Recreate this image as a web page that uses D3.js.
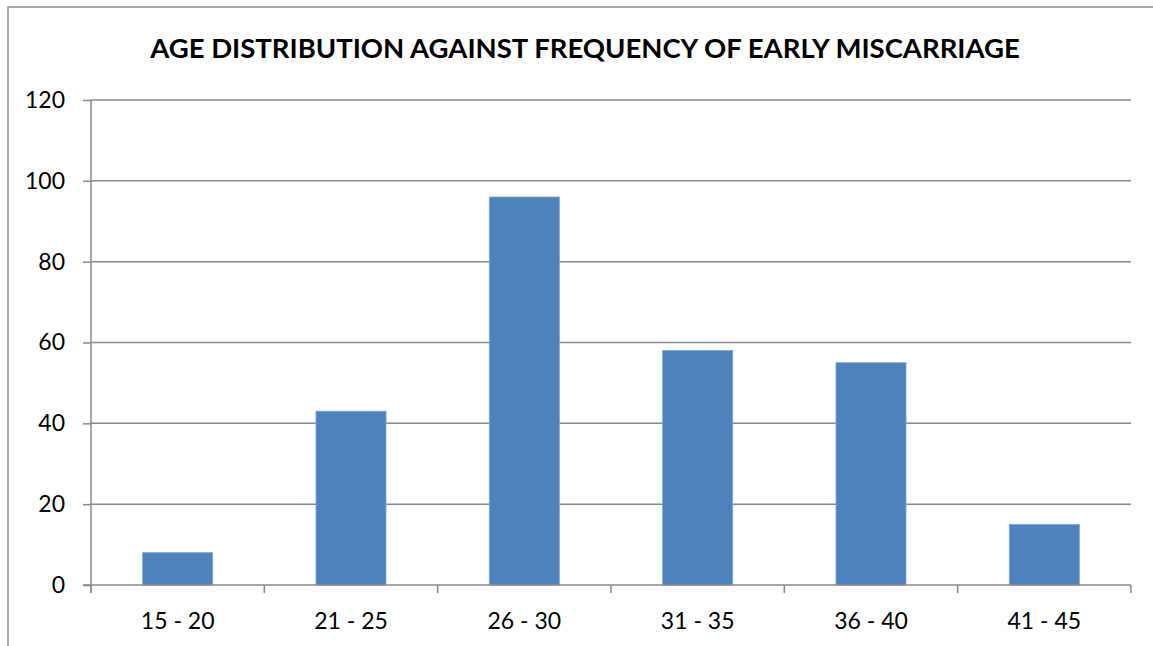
<!DOCTYPE html>
<html><head><meta charset="utf-8">
<script src="https://cdn.jsdelivr.net/npm/d3@7"></script>
<style>body{margin:0;background:#fff;} text{font-family:Lato, "Open Sans", sans-serif;}</style>
</head><body>
<svg id="c" width="1153" height="646"></svg>
<script>
const categories = ["15 - 20","21 - 25","26 - 30","31 - 35","36 - 40","41 - 45"];
const values = [8, 43, 96, 58, 55, 15];
const yTicks = [0,20,40,60,80,100,120];
const title = "AGE DISTRIBUTION AGAINST FREQUENCY OF EARLY MISCARRIAGE";

const svg = d3.select("#c");
const L = 91, R = 1131, T = 100, B = 585;
svg.append("rect").attr("x",8).attr("y",7).attr("width",1160).attr("height",660)
  .attr("fill","#fff").attr("stroke","#8c8c8c").attr("stroke-width",1.5);

const x = d3.scaleBand().domain(categories).range([L,R]).paddingInner(0.596).paddingOuter(0.298);
const y = d3.scaleLinear().domain([0,120]).range([B,T]);

// gridlines
svg.append("g").selectAll("line").data(yTicks.filter(d=>d>0)).join("line")
  .attr("x1",L).attr("x2",R).attr("y1",d=>y(d)).attr("y2",d=>y(d))
  .attr("stroke","#888").attr("stroke-width",1.5);

// bars
svg.append("g").selectAll("rect").data(values).join("rect")
  .attr("x",(d,i)=>x(categories[i])).attr("width",x.bandwidth())
  .attr("y",d=>y(d)).attr("height",d=>B-y(d))
  .attr("fill","#4F81BD").attr("stroke","#7ea3d3").attr("stroke-width",0.8);

// y axis
const ya = svg.append("g").attr("transform",`translate(${L},0)`)
  .call(d3.axisLeft(y).tickValues(yTicks).tickSize(8).tickPadding(18));
ya.select(".domain").attr("stroke","#888").attr("stroke-width",1.5).attr("d",`M-0,${T}V${B+8}`);
ya.selectAll(".tick line").attr("stroke","#888").attr("stroke-width",1.5);
ya.selectAll("text").attr("font-size",23).attr("fill","#000");

// x axis
const xb = d3.scaleLinear().domain([0,6]).range([L,R]);
const xa = svg.append("g").attr("transform",`translate(0,${B})`);
xa.append("line").attr("x1",L-8).attr("x2",R).attr("stroke","#888").attr("stroke-width",1.5);
xa.selectAll(".tk").data(d3.range(7)).join("line").attr("class","tk")
  .attr("x1",d=>xb(d)).attr("x2",d=>xb(d)).attr("y1",0).attr("y2",8)
  .attr("stroke","#888").attr("stroke-width",1.5);
xa.selectAll("text").data(categories).join("text")
  .attr("x",d=>x(d)+x.bandwidth()/2).attr("y",44).attr("text-anchor","middle")
  .attr("font-size",23).attr("fill","#000").text(d=>d);

svg.append("text").attr("x",585).attr("y",58).attr("text-anchor","middle")
  .attr("font-size",27.5).attr("font-weight","bold").attr("fill","#000").text(title);
</script>
</body></html>
